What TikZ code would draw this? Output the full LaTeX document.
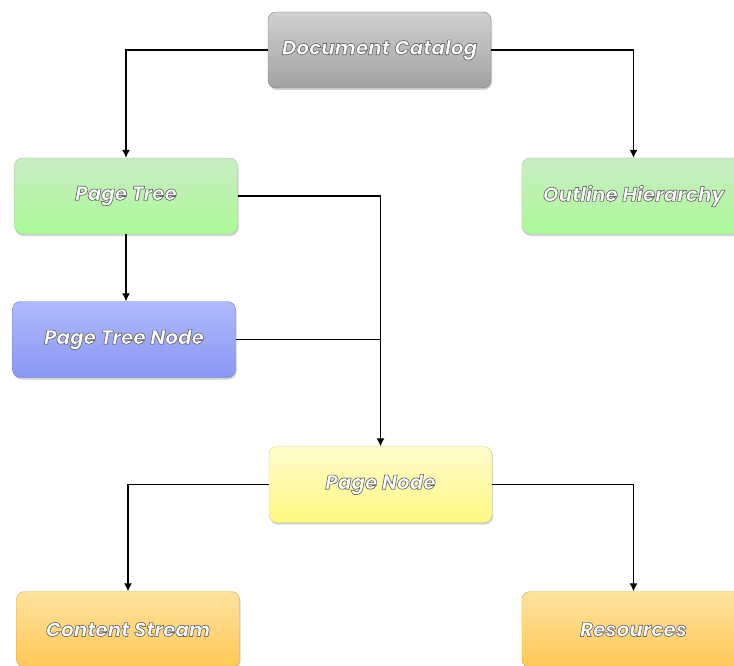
\documentclass[tikz,border=0pt]{standalone}
\usepackage{fontspec}
\setmainfont{Poppins}
\usetikzlibrary{shadows, arrows.meta, positioning}
\definecolor{catalogtop}{RGB}{208,208,208}
\definecolor{catalogbot}{RGB}{162,162,162}
\definecolor{treetop}{RGB}{200,236,194}
\definecolor{treebot}{RGB}{172,250,152}
\definecolor{nodetop}{RGB}{176,186,250}
\definecolor{nodebot}{RGB}{138,150,245}
\definecolor{pagetop}{RGB}{255,252,204}
\definecolor{pagebot}{RGB}{255,248,130}
\definecolor{leaftop}{RGB}{255,226,160}
\definecolor{leafbot}{RGB}{255,200,84}
% white lettering with a grey rim
\newcommand{\embossed}[1]{\textcolor{white}{\special{pdf:literal direct 2 Tr 0.7 w 0.42 0.42 0.42 RG}#1\special{pdf:literal direct 0 Tr}}}

\begin{document}
\begin{tikzpicture}[x=1pt, y=-1pt,
        box/.style={rectangle, rounded corners=8pt, minimum width=223pt, minimum height=76pt, align=center, font=\fontsize{20}{24}\selectfont\bfseries\itshape, drop shadow={shadow xshift=1pt, shadow yshift=-2pt, opacity=0.35}},
        link/.style={line width=1.2pt, -{Latex[length=8pt, width=8pt]}}
    ]
        \useasboundingbox (0,0) rectangle (734,666);

        \node[box, top color=catalogtop, bottom color=catalogbot, draw=catalogbot!80!black] (catalog) at (379.5, 50) {\embossed{Document Catalog}};
        \node[box, top color=treetop, bottom color=treebot, draw=treetop!80!black!90] (tree) at (126, 196) {\embossed{Page Tree}};
        \node[box, top color=treetop, bottom color=treebot, draw=treetop!80!black!90] (outline) at (633.5, 196) {\embossed{Outline Hierarchy}};
        \node[box, top color=nodetop, bottom color=nodebot, draw=nodebot!85!black] (treenode) at (124, 339.5) {\embossed{Page Tree Node}};
        \node[box, top color=pagetop, bottom color=pagebot, draw=pagebot!85!black] (page) at (380.5, 484.5) {\embossed{Page Node}};
        \node[box, top color=leaftop, bottom color=leafbot, draw=leafbot!85!black] (content) at (128, 629.5) {\embossed{Content Stream}};
        \node[box, top color=leaftop, bottom color=leafbot, draw=leafbot!85!black] (resources) at (633.5, 629.5) {\embossed{Resources}};

        \draw[link] (catalog.west) -| (tree.north);
        \draw[link] (catalog.east) -| (outline.north);
        \draw[link] (tree.south) -- (tree.south |- treenode.north);
        \draw[link] (tree.east) -| (page.north);
        \draw[line width=1.2pt] (treenode.east) -- (treenode.east -| page.north);
        \draw[link] (page.west) -| (content.north);
        \draw[link] (page.east) -| (resources.north);
    \end{tikzpicture}
\end{document}
